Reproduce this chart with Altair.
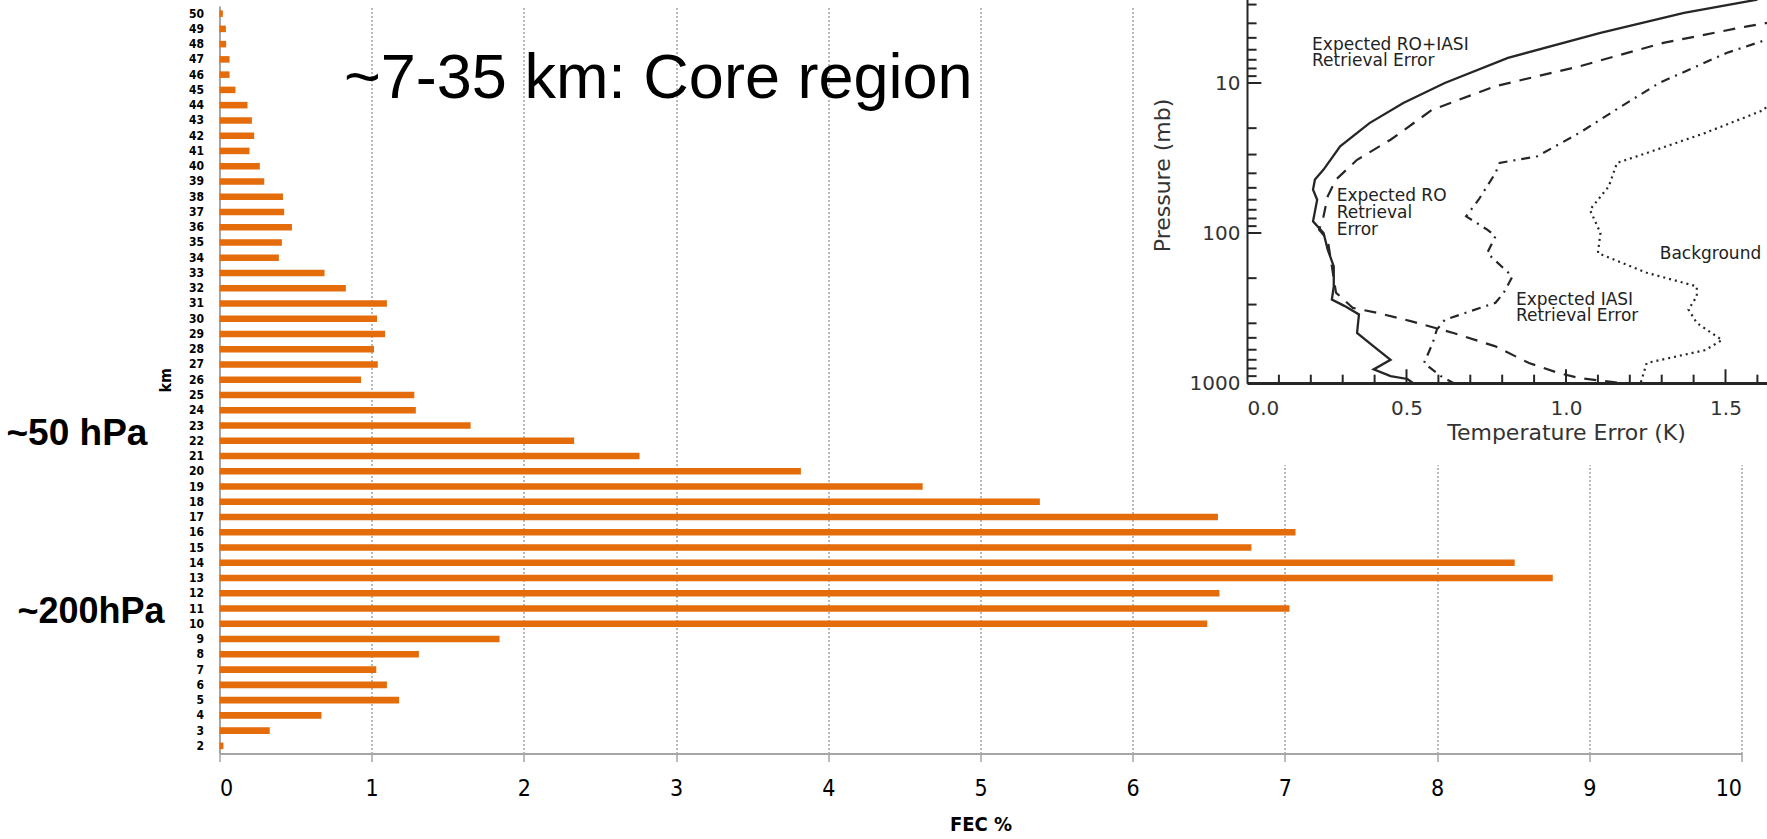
import altair as alt
import pandas as pd

# ---------------- main bar chart data ----------------
km_levels = [str(k) for k in range(2, 51)]
fec_pct = [0.026, 0.33, 0.67, 1.18, 1.10, 1.03, 1.31, 1.84, 6.49, 7.03,
           6.57, 8.76, 8.51, 6.78, 7.07, 6.56, 5.39, 4.62, 3.82, 2.76,
           2.33, 1.65, 1.29, 1.28, 0.93, 1.04, 1.015, 1.088, 1.035, 1.10,
           0.83, 0.69, 0.39, 0.41, 0.476, 0.425, 0.417, 0.294, 0.265, 0.197,
           0.228, 0.213, 0.184, 0.105, 0.066, 0.066, 0.044, 0.042, 0.022]
x_tick_values = list(range(0, 11))

# ---------------- inset (temperature error profiles) ----------------
roiasi_T = [1.60, 1.37, 1.108, 0.818, 0.62, 0.49, 0.384, 0.292, 0.24, 0.213, 0.207, 0.22,
            0.207, 0.24, 0.253, 0.272, 0.272, 0.266, 0.305, 0.351, 0.345, 0.397, 0.45,
            0.397, 0.45, 0.503, 0.52]
roiasi_P = [2.78, 3.41, 4.64, 6.8, 10, 13.6, 18.5, 26.4, 37.8, 44, 51.4, 60,
            83.6, 100, 129, 167, 227, 278, 306, 349, 464, 570, 700,
            812, 900, 940, 1000]
ro_T = [1.66, 1.568, 1.305, 1.042, 0.779, 0.58, 0.45, 0.345, 0.279, 0.253, 0.24, 0.226,
        0.253, 0.266, 0.279, 0.332, 0.41, 0.516, 0.647, 0.779, 0.884, 0.976, 1.042, 1.174]
ro_P = [3.88, 4.19, 5.4, 7.74, 10.5, 15.1, 23.9, 32.5, 44, 57, 77.4, 95,
        111, 167, 250, 316, 341, 388, 464, 570, 736, 857, 927, 1000]
iasi_T = [1.66, 1.503, 1.292, 1.174, 1.042, 0.91, 0.792, 0.779, 0.726, 0.687, 0.753, 0.779,
          0.753, 0.832, 0.805, 0.779, 0.62, 0.595, 0.582, 0.555, 0.608, 0.647]
iasi_P = [4.89, 6.31, 10, 14.3, 21.5, 30.8, 34.1, 39.8, 60, 77.4, 95, 105,
          136, 195, 250, 292, 379, 441, 542, 736, 900, 1000]
bg_T = [1.66, 1.621, 1.437, 1.253, 1.16, 1.134, 1.075, 1.108, 1.1, 1.253, 1.41, 1.41,
        1.384, 1.41, 1.489, 1.437, 1.253, 1.234]
bg_P = [11.6, 15.1, 21.5, 29.3, 34.1, 48.9, 70, 100, 136, 184, 227, 264,
        324, 398, 517, 603, 736, 1000]

inset_note_text = ["Expected RO+IASI", "Retrieval Error", "Expected RO", "Retrieval", "Error",
                   "Expected IASI", "Retrieval Error", "Background"]
inset_note_T = [0.204, 0.204, 0.281, 0.281, 0.281, 0.843, 0.843, 1.294]
inset_note_P = [5.55, 7.17, 57, 73.6, 95, 278, 358, 139]

inset_x_labels = [0.0, 0.5, 1.0, 1.5]
inset_y_labels = [10, 100, 1000]
inset_y_minor = [3, 4, 5, 6, 7, 8, 9, 20, 30, 40, 50, 60, 70, 80, 90,
                 200, 300, 400, 500, 600, 700, 800, 900]
inset_y_major = [10, 100, 1000]
inset_x_minor = [0.1, 0.2, 0.3, 0.4, 0.6, 0.7, 0.8, 0.9, 1.1, 1.2, 1.3, 1.4,
                 1.6, 1.7, 1.8, 1.9]
inset_x_major = [0.5, 1.0, 1.5]

# ---------------- layout constants ----------------
W, H = 1522, 747.5
PAD_L, PAD_T = 219.5, 6
TOTAL_W, TOTAL_H = 1767, 836
FONT = "DejaVu Sans Condensed"
ORANGE = "#E46C0A"
INK = "#262626"

bars_df = pd.DataFrame({"km": km_levels, "FEC": fec_pct})

main_x = alt.X(
    "FEC:Q",
    scale=alt.Scale(domain=[0, 10], nice=False, zero=True),
    axis=alt.Axis(values=x_tick_values, format="d", title="FEC %", grid=True,
                  gridDash=[2, 2], gridColor="#8a8a8a", gridWidth=1.2,
                  domainColor="#a6a6a6", domainWidth=2, tickColor="#a6a6a6",
                  tickSize=8, tickWidth=1.5, labelFont=FONT, labelFontSize=23,
                  labelColor="black", labelPadding=16, titleFont=FONT,
                  titleFontSize=20, titleFontWeight="bold", titleColor="black",
                  titlePadding=14, zindex=0),
)
main_y = alt.Y(
    "km:N",
    sort=list(reversed(km_levels)),
    scale=alt.Scale(paddingInner=0.57, paddingOuter=0.285),
    axis=alt.Axis(title="km", ticks=False, labelFont=FONT, labelFontSize=12,
                  labelFontWeight="bold", labelColor="black", labelPadding=16,
                  domainColor="#a6a6a6", domainWidth=2, titleFont=FONT,
                  titleFontSize=16, titleFontWeight="bold", titleColor="black",
                  titlePadding=15, grid=False, zindex=0),
)

bars = alt.Chart(bars_df).mark_bar(color=ORANGE).encode(x=main_x, y=main_y)

one = pd.DataFrame({"k": [0]})


def note(text, x, y, size, weight="normal", font="Liberation Sans"):
    return alt.Chart(one).mark_text(
        text=text, align="left", baseline="alphabetic", font=font,
        fontSize=size, fontWeight=weight, color="black"
    ).encode(x=alt.value(x), y=alt.value(y))


core = note("~7-35 km: Core region", 344 - PAD_L, 98 - PAD_T, 63)
hpa50 = note("~50 hPa", 6.5 - PAD_L, 445 - PAD_T, 37, "bold")
hpa200 = note("~200hPa", 17.5 - PAD_L, 623 - PAD_T, 36, "bold")

main_layer = alt.layer(bars, core, hpa50, hpa200)

# ---------------- inset ----------------
ix_scale = alt.Scale(domain=[0, 2], range=[1247 - PAD_L, 1247 - PAD_L + 638], nice=False, zero=False)
iy_scale = alt.Scale(type="log", domain=[1, 1000], range=[383 - PAD_T - 450, 383 - PAD_T], nice=False)
IFONT = "DejaVu Sans"
ix_axis = alt.Axis(orient="bottom", offset=(383 - PAD_T) - H, values=inset_x_labels,
                   format=".1f", ticks=False, grid=False, domainColor=INK, domainWidth=3,
                   labelFont=IFONT, labelFontSize=20, labelColor="#333333", labelPadding=15,
                   title="Temperature Error (K)", titleFont=IFONT, titleFontSize=22,
                   titleFontWeight="normal", titleColor="#333333", titlePadding=4, zindex=2)
iy_axis = alt.Axis(orient="left", offset=-(1247 - PAD_L), values=inset_y_labels,
                   format="d", ticks=False, grid=False, domainColor=INK, domainWidth=2,
                   labelFont=IFONT, labelFontSize=20, labelColor="#333333", labelPadding=7,
                   title="Pressure (mb)", titleFont=IFONT, titleFontSize=22,
                   titleFontWeight="normal", titleColor="#333333", titlePadding=15,
                   titleY=175 - PAD_T, zindex=2)


def IX(field):
    return alt.X(field, type="quantitative", scale=ix_scale, axis=ix_axis)


def IY(field):
    return alt.Y(field, type="quantitative", scale=iy_scale, axis=iy_axis)


box = alt.Chart(one).mark_rect(color="white").encode(
    x=alt.value(1136 - PAD_L), x2=alt.value(TOTAL_W - PAD_L + 2),
    y=alt.value(-PAD_T - 2), y2=alt.value(465 - PAD_T)
)


def profile(Ts, Ps, dash, width):
    df = pd.DataFrame({"T": Ts, "P": Ps, "i": list(range(len(Ts)))})
    kw = dict(color=INK, strokeWidth=width)
    if dash:
        kw["strokeDash"] = dash
    return alt.Chart(df).mark_line(**kw).encode(x=IX("T"), y=IY("P"), order="i:Q")


l_roiasi = profile(roiasi_T, roiasi_P, None, 2.3)
l_ro = profile(ro_T, ro_P, [12, 9], 2.2)
l_iasi = profile(iasi_T, iasi_P, [9, 6, 2, 6], 2.2)
l_bg = profile(bg_T, bg_P, [2, 4], 2.2)

ytick_df = pd.DataFrame({
    "P": inset_y_minor + inset_y_major,
    "T0": [0.0] * (len(inset_y_minor) + len(inset_y_major)),
    "T1": [0.03] * len(inset_y_minor) + [0.045] * len(inset_y_major),
})
xtick_df = pd.DataFrame({
    "T": inset_x_minor + inset_x_major,
    "P0": [1000.0] * (len(inset_x_minor) + len(inset_x_major)),
    "P1": [880.0] * len(inset_x_minor) + [810.0] * len(inset_x_major),
})
yticks = alt.Chart(ytick_df).mark_rule(color=INK, strokeWidth=2).encode(
    x=IX("T0"), x2=alt.X2("T1"), y=IY("P"))
xticks = alt.Chart(xtick_df).mark_rule(color=INK, strokeWidth=2).encode(
    x=IX("T"), y=IY("P0"), y2=alt.Y2("P1"))

notes_df = pd.DataFrame({"T": inset_note_T, "P": inset_note_P, "txt": inset_note_text})
inset_notes = alt.Chart(notes_df).mark_text(
    align="left", baseline="middle", font=IFONT, fontSize=17, color="#222222"
).encode(x=IX("T"), y=IY("P"), text="txt:N")

inset_layer = alt.layer(box, yticks, xticks, l_bg, l_iasi, l_ro, l_roiasi, inset_notes)

chart = alt.layer(main_layer, inset_layer).resolve_scale(
    x="independent", y="independent"
).properties(
    width=W, height=H,
    autosize=alt.AutoSizeParams(type="none"),
    padding={"left": PAD_L, "top": PAD_T, "right": TOTAL_W - PAD_L - W, "bottom": TOTAL_H - PAD_T - H},
    background="white",
).configure_view(strokeWidth=0)

chart.save("out.html", embed_options={"renderer": "svg", "actions": False})
